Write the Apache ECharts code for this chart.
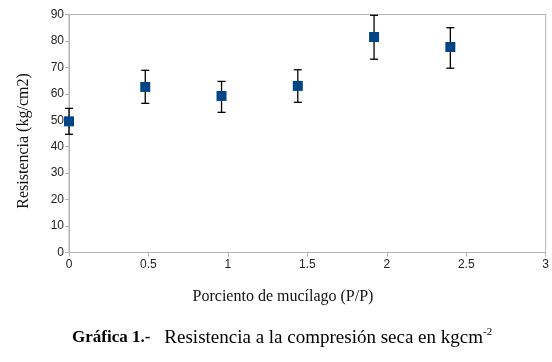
<!DOCTYPE html>
<html>
<head>
<meta charset="utf-8">
<script src="https://cdn.jsdelivr.net/npm/echarts@6/dist/echarts.min.js"></script>
<style>
  html, body { margin: 0; padding: 0; background: #fff; }
  #chart { width: 552px; height: 362px; }
</style>
</head>
<body>
<div id="chart"></div>
<script>
// datos
var mucilago = [0, 0.48, 0.96, 1.44, 1.92, 2.4];
var resistencia = [49.6, 62.6, 59.2, 63.0, 81.5, 77.7];
var errorBajo = [44.7, 56.4, 53.0, 56.8, 73.1, 69.7];
var errorAlto = [54.5, 68.9, 64.7, 69.1, 89.7, 85.0];

var chart = echarts.init(document.getElementById('chart'));

var puntos = mucilago.map(function (x, i) { return [x, resistencia[i]]; });
var barras = mucilago.map(function (x, i) { return [x, errorBajo[i], errorAlto[i]]; });

var option = {
  animation: false,
  grid: {
    left: 69,
    right: 5,
    top: 14.5,
    bottom: 109.5,
    show: true,
    borderColor: '#b3b3b3',
    borderWidth: 1
  },
  xAxis: {
    type: 'value',
    min: 0,
    max: 3,
    interval: 0.5,
    axisLine: { show: true, lineStyle: { color: '#b3b3b3' } },
    axisTick: { show: true, length: 4, lineStyle: { color: '#b3b3b3' } },
    splitLine: { show: false },
    axisLabel: {
      color: '#222',
      fontFamily: 'Liberation Sans',
      fontSize: 12,
      margin: 6
    }
  },
  yAxis: {
    type: 'value',
    min: 0,
    max: 90,
    interval: 10,
    axisLine: { show: true, lineStyle: { color: '#b3b3b3' } },
    axisTick: { show: true, length: 4, lineStyle: { color: '#b3b3b3' } },
    splitLine: { show: false },
    axisLabel: {
      color: '#222',
      fontFamily: 'Liberation Sans',
      fontSize: 12,
      margin: 5
    }
  },
  graphic: [
    {
      type: 'text',
      x: 24,
      y: 141,
      rotation: Math.PI / 2,
      style: {
        text: 'Resistencia (kg/cm2)',
        font: '16px "Liberation Serif"',
        fill: '#111',
        align: 'center',
        verticalAlign: 'middle'
      }
    },
    {
      type: 'text',
      x: 283,
      y: 297,
      style: {
        text: 'Porciento de mucílago (P/P)',
        font: '16px "Liberation Serif"',
        fill: '#111',
        align: 'center',
        verticalAlign: 'middle'
      }
    },
    {
      type: 'text',
      x: 72,
      y: 338,
      style: {
        text: '{b|Gráfica 1.-}{n|Resistencia a la compresión seca en kgcm}{s|-2}',
        verticalAlign: 'middle',
        rich: {
          b: { font: 'bold 17px "Liberation Serif"', fill: '#000' },
          n: { font: '19px "Liberation Serif"', fill: '#000', padding: [0, 0, 0, 14] },
          s: { font: '11px "Liberation Serif"', fill: '#000', verticalAlign: 'top', padding: [0, 0, 12, 0] }
        }
      }
    }
  ],
  series: [
    {
      type: 'custom',
      data: barras,
      z: 1,
      renderItem: function (params, api) {
        var x = api.value(0);
        var lo = api.coord([x, api.value(1)]);
        var hi = api.coord([x, api.value(2)]);
        var cap = 4;
        var st = { stroke: '#000', lineWidth: 1.3 };
        return {
          type: 'group',
          children: [
            { type: 'line', shape: { x1: lo[0], y1: lo[1], x2: hi[0], y2: hi[1] }, style: st },
            { type: 'line', shape: { x1: lo[0] - cap, y1: lo[1], x2: lo[0] + cap, y2: lo[1] }, style: st },
            { type: 'line', shape: { x1: hi[0] - cap, y1: hi[1], x2: hi[0] + cap, y2: hi[1] }, style: st }
          ]
        };
      }
    },
    {
      type: 'scatter',
      data: puntos,
      symbol: 'rect',
      symbolSize: 10,
      z: 2,
      itemStyle: { color: '#004586', opacity: 1 }
    }
  ]
};

chart.setOption(option);
</script>
</body>
</html>
